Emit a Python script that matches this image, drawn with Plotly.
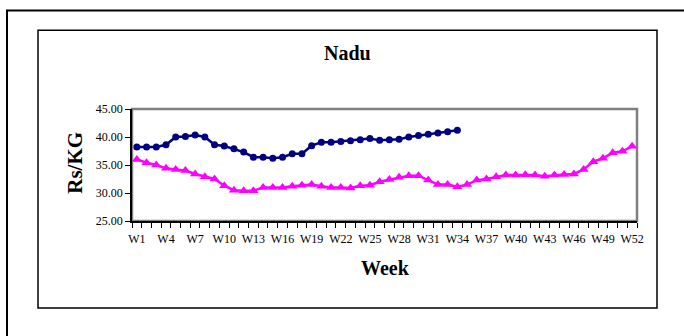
import plotly.graph_objects as go

# Weekly price (Rs/KG) for Nadu
weeks = [f"W{i}" for i in range(1, 53)]

price_current = [38.2, 38.2, 38.2, 38.6, 40.0, 40.1, 40.35, 40.0, 38.6, 38.4,
                 37.9, 37.3, 36.4, 36.4, 36.2, 36.4, 37.0, 37.0, 38.45, 39.05,
                 39.05, 39.2, 39.35, 39.5, 39.75, 39.4, 39.5, 39.6, 40.0, 40.25,
                 40.5, 40.7, 40.95, 41.2]

price_previous = [36.0, 35.4, 35.0, 34.4, 34.2, 34.0, 33.4, 32.9, 32.5, 31.3,
                  30.5, 30.4, 30.4, 31.0, 31.0, 31.0, 31.2, 31.4, 31.5, 31.2,
                  31.0, 31.0, 30.9, 31.3, 31.4, 32.0, 32.4, 32.8, 33.1, 33.1,
                  32.3, 31.5, 31.5, 31.1, 31.5, 32.3, 32.5, 32.9, 33.2, 33.2,
                  33.25, 33.2, 33.0, 33.2, 33.3, 33.4, 34.2, 35.6, 36.2, 37.2,
                  37.45, 38.35]

y_ticks = [25, 30, 35, 40, 45]
x_ticktext = [w if i % 3 == 0 else "" for i, w in enumerate(weeks)]

FONT = "Liberation Serif"

# plot-area pixel geometry used for placing decorations around it
W, H = 684, 336
L, R, T, B = 132, 637, 109, 221.5
pw, ph = R - L, B - T


def px(x):
    return (x - L) / pw


def py(y):
    return 1 - (y - T) / ph


fig = go.Figure()

fig.add_trace(go.Scatter(
    x=weeks, y=price_previous, mode="lines+markers",
    line=dict(color="#FF00FF", width=2.5),
    marker=dict(symbol="triangle-up", size=9, color="#FF00FF"),
    showlegend=False,
))
fig.add_trace(go.Scatter(
    x=weeks[:len(price_current)], y=price_current, mode="lines+markers",
    line=dict(color="#000080", width=2.5),
    marker=dict(symbol="circle", size=7, color="#000080"),
    showlegend=False,
))

shapes = [
    # outer page frame
    dict(type="rect", xref="paper", yref="paper",
         x0=px(7), x1=px(700), y0=py(350), y1=py(10),
         line=dict(color="black", width=2), layer="below"),
    # chart box
    dict(type="rect", xref="paper", yref="paper",
         x0=px(38), x1=px(657), y0=py(309), y1=py(30),
         line=dict(color="black", width=1.5), layer="below"),
    # plot-area border
    dict(type="rect", xref="paper", yref="paper",
         x0=0, x1=1, y0=0, y1=1,
         line=dict(color="#808080", width=2.5), layer="below"),
]

annotations = [
    dict(text="<b>Nadu</b>", xref="paper", yref="paper",
         x=px(347), y=py(53), xanchor="center", yanchor="middle",
         showarrow=False,
         font=dict(family=FONT, size=20, color="black")),
    dict(text="<b>Week</b>", xref="paper", yref="paper",
         x=px(385), y=py(269), xanchor="center", yanchor="middle",
         showarrow=False,
         font=dict(family=FONT, size=20, color="black")),
    dict(text="<b>Rs/KG</b>", xref="paper", yref="paper",
         x=px(75), y=py(163), xanchor="center", yanchor="middle",
         showarrow=False, textangle=-90,
         font=dict(family=FONT, size=21, color="black")),
]

fig.update_layout(
    width=W, height=H,
    margin=dict(l=L, r=W - R, t=T, b=H - B),
    paper_bgcolor="white", plot_bgcolor="white",
    font=dict(family=FONT, color="black"),
    shapes=shapes, annotations=annotations,
    xaxis=dict(
        type="category", range=[-0.5, 51.5],
        tickmode="array", tickvals=weeks, ticktext=x_ticktext,
        tickson="boundaries", ticks="outside", ticklen=5,
        tickcolor="black", tickwidth=1, tickangle=0,
        showline=True, linecolor="black", linewidth=1.5,
        showgrid=False, zeroline=False,
        tickfont=dict(family=FONT, size=12, color="black"),
        ticklabelstandoff=6,
    ),
    yaxis=dict(
        range=[25, 45], tickvals=y_ticks, tickformat=".2f",
        ticks="outside", ticklen=5, tickcolor="black", tickwidth=1,
        showline=True, linecolor="black", linewidth=1.5,
        showgrid=False, zeroline=False,
        tickfont=dict(family=FONT, size=12, color="black"),
    ),
)

fig.write_html("out.html")
